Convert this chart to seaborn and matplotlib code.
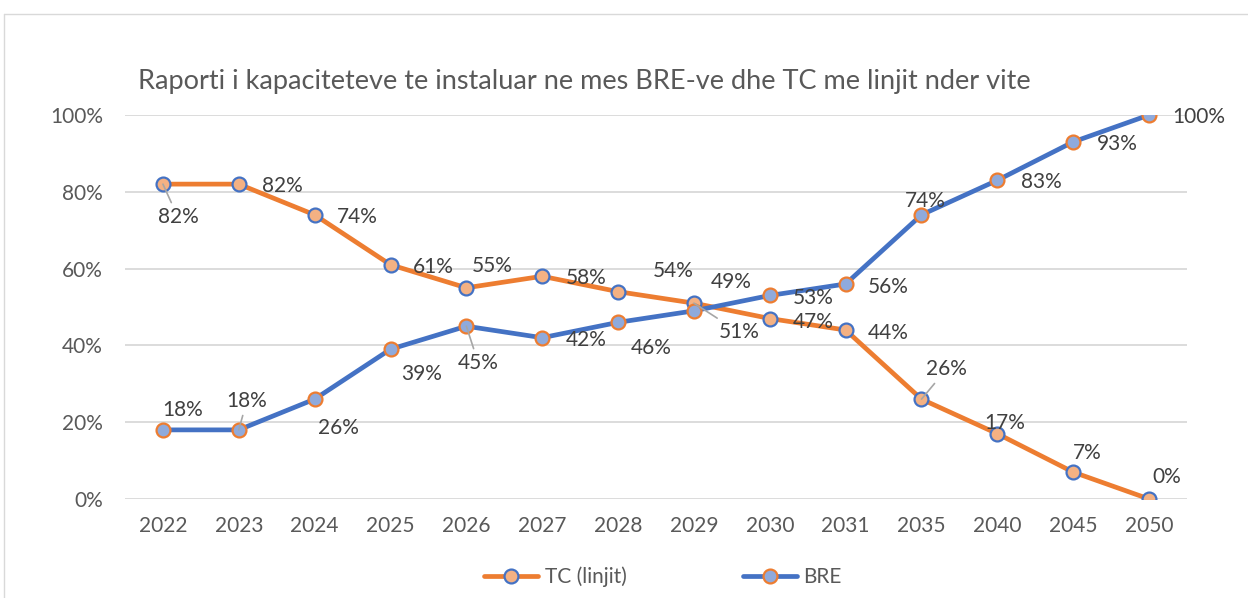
import matplotlib
matplotlib.use("Agg")
import matplotlib.pyplot as plt
import seaborn as sns
import pandas as pd
from matplotlib.lines import Line2D

# data
years = ["2022", "2023", "2024", "2025", "2026", "2027", "2028",
         "2029", "2030", "2031", "2035", "2040", "2045", "2050"]
tc_values = [82, 82, 74, 61, 55, 58, 54, 51, 47, 44, 26, 17, 7, 0]
bre_values = [18, 18, 26, 39, 45, 42, 46, 49, 53, 56, 74, 83, 93, 100]
y_ticks = [0, 20, 40, 60, 80, 100]
title = "Raporti i kapaciteteve te instaluar ne mes BRE-ve dhe TC me linjit nder vite"

# label offsets in pixels (dx, dy) and whether a leader line is drawn
tc_offsets = [(15, -33, True), (44, -2, False), (43, -2, False), (43, -2, False),
              (26, 22, False), (44, -2, False), (55, 21, False), (45, -29, True),
              (43, -3, False), (43, -3, False), (25, 30, True), (7, 11, False),
              (14, 19, False), (18, 22, False)]
bre_offsets = [(20, 20, False), (8, 29, True), (24, -29, False), (31, -25, False),
               (12, -37, True), (44, -2, False), (33, -26, False), (37, 29, False),
               (43, -3, False), (43, -3, False), (4, 14, False), (44, -2, False),
               (44, -2, False), (50, -2, False)]

ORANGE = "#ED7D31"
ORANGE_LIGHT = "#F4B183"
BLUE = "#4472C4"
BLUE_LIGHT = "#8FAADC"
TEXT = "#595959"
LABEL = "#404040"

sns.set_theme(style="white")
plt.rcParams["font.family"] = ["Lato", "DejaVu Sans"]

df = pd.DataFrame({"pos": range(len(years)), "tc": tc_values, "bre": bre_values})

fig = plt.figure(figsize=(12.48, 5.98), dpi=100)
ax = fig.add_axes([125 / 1248, 1 - 499 / 598, 1062 / 1248, 384 / 598])

sns.lineplot(data=df, x="pos", y="tc", ax=ax, color=ORANGE, linewidth=3.4,
             marker="o", markersize=10, markerfacecolor=ORANGE_LIGHT,
             markeredgecolor=BLUE, markeredgewidth=1.6, zorder=3)
sns.lineplot(data=df, x="pos", y="bre", ax=ax, color=BLUE, linewidth=3.4,
             marker="o", markersize=10, markerfacecolor=BLUE_LIGHT,
             markeredgecolor=ORANGE, markeredgewidth=1.6, zorder=4)


def add_labels(values, offsets):
    for i, (v, (dx, dy, leader)) in enumerate(zip(values, offsets)):
        kw = {}
        if leader:
            kw["arrowprops"] = dict(arrowstyle="-", color="#A6A6A6", lw=1.2,
                                    shrinkA=1, shrinkB=0)
        ax.annotate(f"{v}%", xy=(i, v), xytext=(dx, dy),
                    textcoords="offset pixels", ha="center", va="center",
                    fontsize=15, color=LABEL, zorder=5, **kw)


add_labels(tc_values, tc_offsets)
add_labels(bre_values, bre_offsets)

ax.set_xlim(-0.5, len(years) - 0.5)
ax.set_ylim(0, 100)
ax.set_xticks(range(len(years)))
ax.set_xticklabels(years)
ax.set_yticks(y_ticks)
ax.set_yticklabels([f"{t}%" for t in y_ticks])
ax.tick_params(axis="both", length=0, labelsize=15, labelcolor=TEXT)
ax.tick_params(axis="y", pad=16)
ax.tick_params(axis="x", pad=12)
ax.grid(axis="y", color="#D9D9D9", linewidth=1.3)
ax.set_axisbelow(True)
ax.set_xlabel("")
ax.set_ylabel("")
for s in ax.spines.values():
    s.set_visible(False)

fig.text(138 / 1248, 1 - 82 / 598, title, fontsize=19.5, color=TEXT,
         ha="left", va="center")

handles = [
    Line2D([], [], color=ORANGE, linewidth=3.4, marker="o", markersize=10,
           markerfacecolor=ORANGE_LIGHT, markeredgecolor=BLUE, markeredgewidth=1.6),
    Line2D([], [], color=BLUE, linewidth=3.4, marker="o", markersize=10,
           markerfacecolor=BLUE_LIGHT, markeredgecolor=ORANGE, markeredgewidth=1.6),
]
fig.legend(handles, ["TC (linjit)", "BRE"], loc="center",
           bbox_to_anchor=(663 / 1248, 1 - 577 / 598), ncol=2, frameon=False,
           fontsize=15, labelcolor=TEXT, handlelength=2.6, handletextpad=0.3,
           columnspacing=5.6)

# chart area border (top and left edges visible)
fig.add_artist(Line2D([4 / 1248, 1], [1 - 14 / 598, 1 - 14 / 598],
                      transform=fig.transFigure, color="#D9D9D9", linewidth=1))
fig.add_artist(Line2D([4 / 1248, 4 / 1248], [0, 1 - 14 / 598],
                      transform=fig.transFigure, color="#D9D9D9", linewidth=1))

fig.savefig("out.png", dpi=100, facecolor="white")
